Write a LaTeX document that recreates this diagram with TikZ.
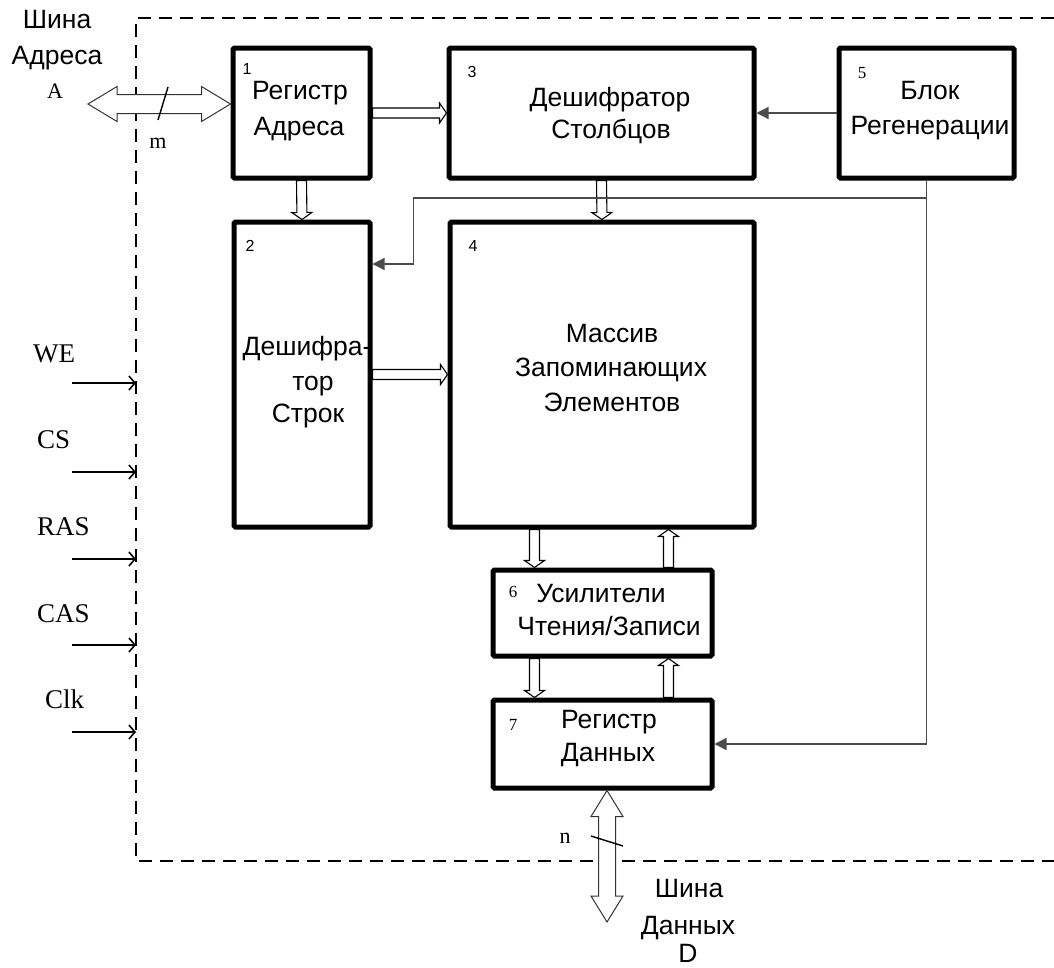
\documentclass[tikz,border=0pt]{standalone}
\usepackage{fontspec}
\setmainfont{Liberation Sans}
\newfontfamily\serifrm{Liberation Serif}
\usetikzlibrary{arrows.meta,calc}

\begin{document}
\begin{tikzpicture}[x=1pt,y=-1pt,
  block/.style 2 args={draw, line width=5pt, rounded corners=1.5pt, inner sep=0pt,
    minimum width=#1, minimum height=#2},
  txt/.style={font=\fontsize{26.5}{26.5}\selectfont, anchor=base, inner sep=0pt},
  num/.style={font=\fontsize{16}{16}\selectfont, anchor=base, inner sep=0pt},
  snum/.style={font=\serifrm\fontsize{17}{17}\selectfont, anchor=base, inner sep=0pt},
  lbl/.style={font=\serifrm\fontsize{27}{27}\selectfont, anchor=base west, inner sep=0pt},
  slbl/.style={font=\serifrm\fontsize{22}{22}\selectfont, anchor=base, inner sep=0pt},
  sig/.style={line width=1.3pt, draw=black!70, -{Triangle[length=12pt,width=12pt]}},
  inp/.style={line width=1.6pt, -{Straight Barb[length=6pt,width=14pt]}},
  frame/.style={line width=2pt, dash pattern=on 13pt off 8pt},
  % hollow block arrow: shaft half-width, head half-width, head length
  hollow/.style n args={3}{draw, fill=white, line width=1.1pt, line join=miter,
    to path={let \p1=(\tikztostart), \p2=(\tikztotarget),
      \n1={atan2(\y2-\y1,\x2-\x1)}, \n2={veclen(\x2-\x1,\y2-\y1)} in
      {[shift={(\p1)}, rotate=\n1]
       (0,#1) -- ({\n2-#3},#1) -- ({\n2-#3},#2) -- (\n2,0)
       -- ({\n2-#3},-#2) -- ({\n2-#3},-#1) -- (0,-#1) -- cycle}}},
  % double-headed hollow arrow for the buses
  bus/.style n args={3}{draw=black!80, fill=white, line width=1pt,
    to path={let \p1=(\tikztostart), \p2=(\tikztotarget),
      \n1={atan2(\y2-\y1,\x2-\x1)}, \n2={veclen(\x2-\x1,\y2-\y1)} in
      {[shift={(\p1)}, rotate=\n1]
       (0,0) -- (#3,#2) -- (#3,#1) -- ({\n2-#3},#1) -- ({\n2-#3},#2) -- (\n2,0)
       -- ({\n2-#3},-#2) -- ({\n2-#3},-#1) -- (#3,-#1) -- (#3,-#2) -- cycle}}},
]
\useasboundingbox (0,0) rectangle (1054,967);

% chip boundary
\draw[frame] (1054,18) -- (136,18) -- (136,861) -- (1054,861);

% blocks
\node[block={137pt}{130pt}] (b1) at (301.5,113) {};
\node[block={305pt}{130pt}] (b3) at (601.5,113) {};
\node[block={175pt}{130pt}] (b5) at (926.5,113) {};
\node[block={136pt}{305pt}] (b2) at (302,374.5) {};
\node[block={304pt}{305pt}] (b4) at (602,374.5) {};
\node[block={219pt}{86pt}]  (b6) at (602.5,613) {};
\node[block={219pt}{88pt}]  (b7) at (602.5,744) {};

% block numbers
\node[num]  (n1) at (247,74)  {1};
\node[num]  (n2) at (250,251) {2};
\node[num]  (n3) at (472,77)  {3};
\node[num]  (n4) at (473,251) {4};
\node[snum] (n5) at (862,78)  {5};
\node[snum] (n6) at (513,597) {6};
\node[snum] (n7) at (513,730) {7};

% block captions
\node[txt] (t1a) at (300,99)  {Регистр};
\node[txt] (t1b) at (299,135) {Адреса};
\node[txt] (t3a) at (610,106) {Дешифратор};
\node[txt] (t3b) at (611,138) {Столбцов};
\node[txt] (t5a) at (930,99)  {Блок};
\node[txt] (t5b) at (930,134) {Регенерации};
\node[txt] (t2a) at (307,355) {Дешифра-};
\node[txt] (t2b) at (313,390) {тор};
\node[txt] (t2c) at (308,422) {Строк};
\node[txt] (t4a) at (612,342) {Массив};
\node[txt] (t4b) at (611,376) {Запоминающих};
\node[txt] (t4c) at (612,411) {Элементов};
\node[txt] (t6a) at (601,602) {Усилители};
\node[txt] (t6b) at (609,635) {Чтения/Записи};
\node[txt] (t7a) at (609,728) {Регистр};
\node[txt] (t7b) at (608,761) {Данных};

% internal data paths
\draw[hollow={5}{10}{7}] (b1.east) to (b3.west);
\draw[hollow={5}{10}{7}] (b1.south) to (b2.north);
\draw[hollow={5}{10}{7}] (b3.south) to (b4.north);
\draw[hollow={5}{10}{7}] (b2.east) to (b4.west);
\coordinate (rd) at ($(b6.north west)+(44,0)$);
\coordinate (wr) at ($(b6.north east)+(-46,0)$);
\draw[hollow={5}{10}{7}] (rd |- b4.south) to (rd);
\draw[hollow={5}{10}{7}] (wr) to (wr |- b4.south);
\coordinate (rd2) at ($(b7.north west)+(44,0)$);
\coordinate (wr2) at ($(b7.north east)+(-46,0)$);
\draw[hollow={5}{10}{7}] (rd2 |- b6.south) to (rd2);
\draw[hollow={5}{10}{7}] (wr2) to (wr2 |- b6.south);

% refresh control lines
\draw[sig] (b5.west) -- (b3.east);
\draw[sig] (b5.south) |- (b7.east);
\coordinate (tap) at ($(b5.south)+(0,17.5)$);
\coordinate (in2) at ($(b2.north east)+(0,44.5)$);
\coordinate (knee) at ($(in2)+(41,0)$);
\draw[sig] (tap) -| (knee) -- (in2);

% address bus
\coordinate (abl) at (88,104);
\coordinate (abr) at ($(b1.west)+(0,-9)$);
\draw[bus={9.5}{17.5}{29}] (abl) to (abr);
\draw[line width=1.4pt] (168,87) -- (158,120);
\node[txt] (ab1) at (57,28) {Шина};
\node[txt] (ab2) at (57,64) {Адреса};
\node[slbl] (ab3) at (55,98) {A};
\node[slbl] (abm) at (158,148) {m};

% data bus
\coordinate (dbt) at ($(b7.south)+(4.5,0)$);
\coordinate (dbb) at (607,922);
\draw[bus={8.5}{16}{26}] (dbt) to (dbb);
\draw[line width=1.4pt] (591,836) -- (623,846);
\node[slbl] (dbn) at (565,843) {n};
\node[txt] (db1) at (689,897) {Шина};
\node[txt] (db2) at (688,934) {Данных};
\node[txt] (db3) at (688,962) {D};

% control inputs
\foreach \nm/\lx/\ly/\ay in {WE/33/362/383, CS/37/448/472, RAS/37/535/559,
                              CAS/37/622/645, Clk/45/708/732} {
  \node[lbl] (l\nm) at (\lx,\ly) {\nm};
  \coordinate (s\nm) at (72,\ay);
  \coordinate (e\nm) at (136,\ay);
  \draw[inp] (s\nm) -- (e\nm);
}
\end{tikzpicture}
\end{document}
